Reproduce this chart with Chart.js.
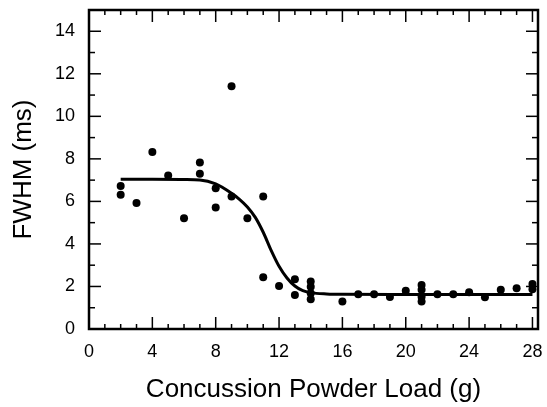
<!DOCTYPE html>
<html>
<head>
<meta charset="utf-8">
<script src="https://cdn.jsdelivr.net/npm/chart.js@4.4.1/dist/chart.umd.min.js"></script>
<style>
  html, body { margin: 0; padding: 0; background: #fff; }
  #wrap { width: 547px; height: 407px; }
</style>
</head>
<body>
<div id="wrap"><canvas id="fwhmChart"></canvas></div>
<script>
// measured points (load in g, FWHM in ms)
const loadG = [2, 2, 3, 4, 5, 6, 7, 7, 8, 8, 9, 9, 10, 11, 11, 12, 13, 13,
               14, 14, 14, 14, 16, 17, 18, 19, 20, 21, 21, 21, 21, 22, 23, 24, 25, 26, 27, 28, 28];
const fwhmMs = [6.73, 6.31, 5.92, 8.32, 7.22, 5.21, 7.83, 7.30, 6.62, 5.71, 11.41, 6.23, 5.21, 6.23, 2.43, 2.02, 2.34, 1.60,
                2.23, 1.99, 1.68, 1.40, 1.29, 1.63, 1.63, 1.51, 1.80, 2.07, 1.84, 1.52, 1.29, 1.63, 1.63, 1.73, 1.49, 1.84, 1.92, 2.12, 1.87];

// fitted curve
const fitX = [2, 4, 6, 7, 8, 9, 9.5, 10, 10.5, 11, 11.5, 12, 12.5, 13, 13.5, 14, 15, 16, 20, 24, 28];
const fitY = [7.04, 7.04, 7.03, 7.01, 6.82, 6.38, 6.1, 5.74, 5.25, 4.55, 3.7, 2.95, 2.4, 2.02, 1.8, 1.71, 1.65, 1.63, 1.62, 1.62, 1.62];

const xTicks = [0, 4, 8, 12, 16, 20, 24, 28];
const yTicks = [0, 2, 4, 6, 8, 10, 12, 14];

const toPoints = (xs, ys) => xs.map((v, i) => ({ x: v, y: ys[i] }));

// box frame with inward ticks on all four sides
const frameTicks = {
    id: 'frameTicks',
    afterDatasetsDraw(chart) {
        const { ctx, chartArea: a, scales: { x, y } } = chart;
        const seg = (x1, y1, x2, y2) => { ctx.beginPath(); ctx.moveTo(x1, y1); ctx.lineTo(x2, y2); ctx.stroke(); };
        ctx.save();
        ctx.strokeStyle = '#000';
        ctx.lineWidth = 1.5;
        for (let v = 0; v <= 28; v++) {
            const px = x.getPixelForValue(v);
            const len = v % 4 === 0 ? 12 : 5;
            seg(px, a.bottom, px, a.bottom - len);
            seg(px, a.top, px, a.top + len);
        }
        for (let v = 0; v <= 15; v++) {
            const py = y.getPixelForValue(v);
            const len = v % 2 === 0 ? 12 : 6;
            seg(a.left, py, a.left + len, py);
            seg(a.right, py, a.right - len, py);
        }
        ctx.lineWidth = 2.5;
        ctx.strokeRect(a.left, a.top, a.right - a.left, a.bottom - a.top);
        ctx.restore();
    }
};

const noPad = s => { s.paddingLeft = 0; s.paddingRight = 0; s.paddingTop = 0; s.paddingBottom = 0; };

const tickFont = { family: 'Liberation Sans, Arial, sans-serif', size: 18 };
const titleFont = { family: 'Liberation Sans, Arial, sans-serif', size: 26 };

const config = {
    type: 'scatter',
    data: {
        datasets: [
            {
                label: 'fit',
                data: toPoints(fitX, fitY),
                showLine: true,
                borderColor: '#000',
                borderWidth: 3,
                pointRadius: 0,
                cubicInterpolationMode: 'monotone'
            },
            {
                label: 'FWHM',
                data: toPoints(loadG, fwhmMs),
                backgroundColor: '#000',
                borderWidth: 0,
                pointRadius: 4
            }
        ]
    },
    options: {
        responsive: true,
        maintainAspectRatio: false,
        animation: false,
        layout: { padding: { top: 10, right: 9, left: 0, bottom: 0 } },
        plugins: {
            legend: { display: false },
            tooltip: { enabled: false }
        },
        scales: {
            x: {
                type: 'linear',
                min: 0,
                max: 28.35,
                afterBuildTicks: s => { s.ticks = xTicks.map(v => ({ value: v })); },
                afterFit: s => { s.height = 78; noPad(s); },
                grid: { display: false, drawTicks: false, tickLength: 0 },
                border: { display: false },
                ticks: { color: '#000', font: tickFont, padding: 12, maxRotation: 0 },
                title: {
                    display: true,
                    text: 'Concussion Powder Load (g)',
                    color: '#000',
                    font: titleFont,
                    padding: { top: 0, bottom: 2 }
                }
            },
            y: {
                type: 'linear',
                min: 0,
                max: 15,
                afterBuildTicks: s => { s.ticks = yTicks.map(v => ({ value: v })); },
                afterFit: s => { s.width = 89; noPad(s); },
                grid: { display: false, drawTicks: false, tickLength: 0 },
                border: { display: false },
                ticks: { color: '#000', font: tickFont, padding: 14 },
                title: {
                    display: true,
                    text: 'FWHM (ms)',
                    color: '#000',
                    font: titleFont,
                    padding: { top: 8, bottom: 0 }
                }
            }
        }
    },
    plugins: [frameTicks]
};

new Chart(document.getElementById('fwhmChart'), config);
</script>
</body>
</html>
